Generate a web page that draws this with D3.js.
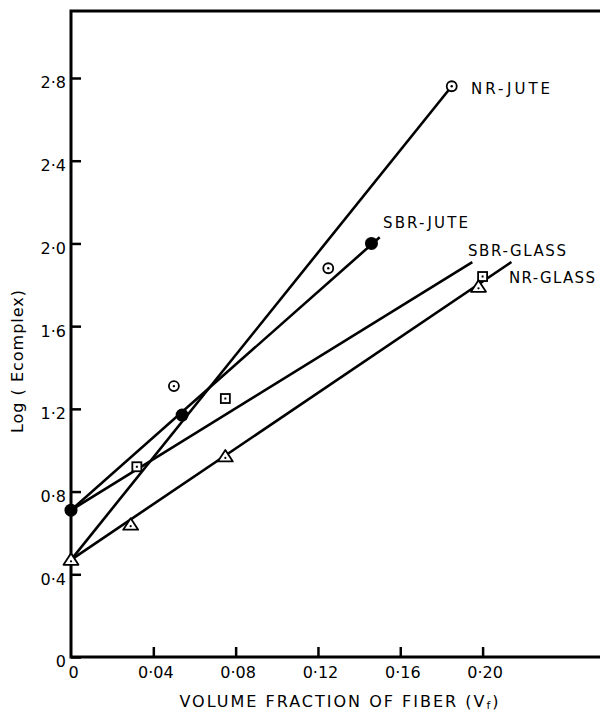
<!DOCTYPE html>
<html>
<head>
<meta charset="utf-8">
<script src="https://cdn.jsdelivr.net/npm/d3@7"></script>
<style>
  body { margin: 0; background: #fff; }
  svg { display: block; font-family: "DejaVu Sans", sans-serif; }
</style>
</head>
<body>
<svg width="600" height="715"></svg>
<script>
// values
const xTicks = [0, 0.04, 0.08, 0.12, 0.16, 0.20];
const yTicks = [0, 0.4, 0.8, 1.2, 1.6, 2.0, 2.4, 2.8];

const seriesNames = ["NR-JUTE", "SBR-JUTE", "SBR-GLASS", "NR-GLASS"];

const nrJuteX = [0.050, 0.125, 0.185];
const nrJuteY = [1.31, 1.88, 2.76];
const sbrJuteX = [0, 0.054, 0.146];
const sbrJuteY = [0.71, 1.17, 2.00];
const sbrGlassX = [0.032, 0.075, 0.200];
const sbrGlassY = [0.92, 1.25, 1.84];
const nrGlassX = [0, 0.029, 0.075, 0.198];
const nrGlassY = [0.47, 0.64, 0.97, 1.79];

// fitted straight lines: [x0, y0, x1, y1]
const nrJuteFit = [0, 0.47, 0.185, 2.76];
const sbrJuteFit = [0, 0.71, 0.150, 2.03];
const sbrGlassFit = [0, 0.71, 0.195, 1.91];
const nrGlassFit = [0, 0.47, 0.214, 1.91];

const margin = {top: 11, right: 0, bottom: 58, left: 71};
const width = 600, height = 715;

const x = d3.scaleLinear([0, 0.2], [margin.left, 482.6]);
const y = d3.scaleLinear([0, 2.8], [height - margin.bottom, 78]);

const fmt = d => d === 0 ? "0" : d3.format(d < 0.3 && d > 0 ? ".2f" : ".1f")(d).replace(".", "\u00b7");

const svg = d3.select("svg");

const series = [
  {name: seriesNames[0], xs: nrJuteX, ys: nrJuteY, fit: nrJuteFit, mark: "circle"},
  {name: seriesNames[1], xs: sbrJuteX, ys: sbrJuteY, fit: sbrJuteFit, mark: "dot"},
  {name: seriesNames[2], xs: sbrGlassX, ys: sbrGlassY, fit: sbrGlassFit, mark: "square"},
  {name: seriesNames[3], xs: nrGlassX, ys: nrGlassY, fit: nrGlassFit, mark: "triangle"}
];

// label placement (pixels): x, baseline, width
const labelPos = [[471, 93.5, 79], [383, 228, 85], [468, 256, 98], [509, 282.5, 86]];

// frame
svg.append("path")
  .attr("fill", "none")
  .attr("stroke", "#000")
  .attr("stroke-width", 3)
  .attr("d", `M${width},${margin.top}H${margin.left}V${y(0)}H${width}`);

// y axis
svg.append("g")
  .attr("transform", `translate(${margin.left},0)`)
  .call(d3.axisLeft(y).tickValues(yTicks).tickSize(-10).tickPadding(5).tickFormat(fmt))
  .call(g => g.select(".domain").remove())
  .call(g => g.selectAll(".tick line").attr("stroke-width", 2.5))
  .call(g => g.selectAll(".tick text")
    .attr("font-size", 16)
    .attr("font-family", "DejaVu Sans")
    .attr("dy", "0.62em"));

// x axis (ticks pointing up)
svg.append("g")
  .attr("transform", `translate(0,${y(0)})`)
  .call(d3.axisBottom(x).tickValues(xTicks).tickSize(-10).tickPadding(10).tickFormat(fmt))
  .call(g => g.select(".domain").remove())
  .call(g => g.selectAll(".tick line").attr("stroke-width", 2.5))
  .call(g => g.selectAll(".tick").filter(d => d === 0).select("line").remove())
  .call(g => g.selectAll(".tick text")
    .attr("font-size", 16)
    .attr("font-family", "DejaVu Sans")
    .attr("dx", 2));

// fitted lines
svg.append("g")
  .attr("stroke", "#000")
  .attr("stroke-width", 2.6)
  .selectAll("line")
  .data(series)
  .join("line")
  .attr("x1", d => x(d.fit[0]))
  .attr("y1", d => y(d.fit[1]))
  .attr("x2", d => x(d.fit[2]))
  .attr("y2", d => y(d.fit[3]));

// markers
const marks = svg.append("g");
series.forEach(s => {
  const pts = s.xs.map((v, i) => [v, s.ys[i]]);
  const g = marks.append("g").selectAll("g")
    .data(pts)
    .join("g")
    .attr("transform", d => `translate(${x(d[0])},${y(d[1])})`);
  if (s.mark === "circle") {
    g.append("circle").attr("r", 5).attr("fill", "#fff").attr("stroke", "#000").attr("stroke-width", 1.8);
    g.append("circle").attr("r", 1.2).attr("fill", "#000");
  } else if (s.mark === "dot") {
    g.append("circle").attr("r", 6.5).attr("fill", "#000");
  } else if (s.mark === "square") {
    g.append("rect").attr("x", -4.5).attr("y", -4.5).attr("width", 9).attr("height", 9)
      .attr("fill", "#fff").attr("stroke", "#000").attr("stroke-width", 1.8);
    g.append("rect").attr("x", -1).attr("y", -1).attr("width", 2).attr("height", 2).attr("fill", "#000");
  } else {
    g.append("path").attr("d", "M0,-6.5L7.5,5L-7.5,5Z")
      .attr("fill", "#fff").attr("stroke", "#000").attr("stroke-width", 1.8).attr("stroke-linejoin", "round");
    g.append("circle").attr("r", 1.1).attr("cy", 1.5).attr("fill", "#000");
  }
});

// series labels
svg.append("g")
  .attr("font-size", 15)
  .selectAll("text")
  .data(series)
  .join("text")
  .attr("x", (d, i) => labelPos[i][0])
  .attr("y", (d, i) => labelPos[i][1])
  .attr("textLength", (d, i) => labelPos[i][2])
  .attr("lengthAdjust", "spacing")
  .text(d => d.name);

// axis titles
const xt = svg.append("text")
  .attr("x", 340)
  .attr("y", 707)
  .attr("text-anchor", "middle")
  .attr("font-size", 16)
  .attr("letter-spacing", 2);
xt.append("tspan").text("VOLUME FRACTION OF FIBER (V");
xt.append("tspan").attr("font-size", 11).attr("dy", 2).text("f");
xt.append("tspan").attr("dy", -2).text(")");

svg.append("text")
  .attr("transform", "translate(23,361) rotate(-90)")
  .attr("text-anchor", "middle")
  .attr("font-size", 16)
  .attr("letter-spacing", 1)
  .text("Log ( Ecomplex)");
</script>
</body>
</html>
